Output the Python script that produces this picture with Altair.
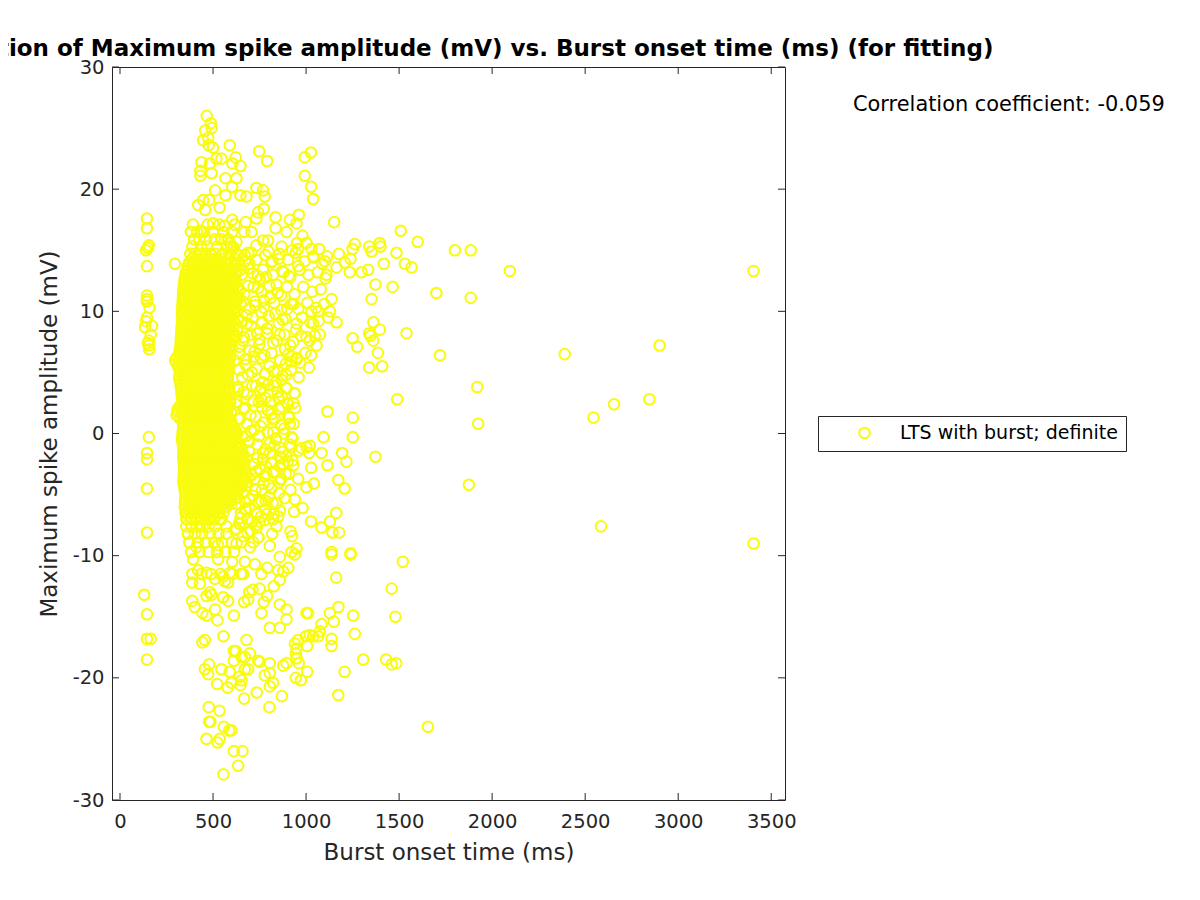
import altair as alt
import pandas as pd

TITLE = "Correlation of Maximum spike amplitude (mV) vs. Burst onset time (ms) (for fitting)"
X_LABEL = "Burst onset time (ms)"
Y_LABEL = "Maximum spike amplitude (mV)"
NOTE = "Correlation coefficient: -0.059"
SERIES = "LTS with burst; definite"
X_TICKS = [0, 500, 1000, 1500, 2000, 2500, 3000, 3500]
Y_TICKS = [-30, -20, -10, 0, 10, 20, 30]
INK = "#262626"
YELLOW = "#F9FB0E"

# early column of cells
left_x = [145,145,140,150,155,145,145,145,145,158,172,145,140,135,165,155,150,155,157,155,145,145,145,145,130,145,145,165,145,295]
left_y = [17.6,16.8,15.0,15.2,15.4,13.7,11.3,11.0,10.8,10.3,8.8,9.5,9.2,8.7,8.1,7.6,7.4,7.2,6.9,-0.3,-1.6,-2.1,-4.5,-8.1,-13.2,-14.8,-16.8,-16.8,-18.5,13.9]

# isolated late cells
far_x = [1600,1800,1885,2095,3405,1700,1885,1720,2390,2900,1540,1920,1490,2845,2655,2545,1925,1875,2585,3405,1520,1460,1480,1655,1430,1460,1485]
far_y = [15.7,15.0,15.0,13.3,13.3,11.5,11.1,6.4,6.5,7.2,8.2,3.8,2.8,2.8,2.4,1.3,0.8,-4.2,-7.6,-9.0,-10.5,-12.7,-15.0,-24.0,-18.5,-18.9,-18.8]

# upper fringe
top_x = [466,488,493,458,447,474,477,500,590,748,791,1026,993,993,1027,1038,438,483,518,545,622,604,647,432,432,492,567,626,603,511,567,647,680,733,769,778,420,447,479,458,535,773,742,733,603,500,563,676,836,836,913,961,949,895,432,438,707,1151,1509,981,952,1002,957,626,590,689,769,796,868,1262,1250,1339,1352,1396,1400,1486,1029,1070,1038,1176,1113,1101,1239,1208,1418,1531,1567,1235,1298,1334,1164,1110,1373,1465,1352,1137]
top_y = [26.0,25.4,25.0,24.8,24.0,24.2,23.6,23.4,23.6,23.1,22.3,23.0,22.6,21.1,20.2,19.2,22.2,22.1,22.5,22.5,22.6,22.1,21.9,21.5,21.1,21.3,20.9,20.9,20.2,19.9,19.5,19.5,19.4,20.1,19.9,19.4,18.7,19.1,19.1,18.3,18.5,18.4,18.1,17.6,17.5,17.2,17.0,17.3,17.7,16.8,17.5,17.9,17.2,16.5,16.6,16.5,16.5,17.3,16.6,16.2,15.6,15.6,15.1,15.7,15.6,14.8,15.8,15.8,15.3,15.5,15.1,15.3,14.9,15.6,15.3,14.8,15.1,15.1,14.5,14.7,14.5,14.1,14.3,14.0,13.9,13.9,13.6,13.2,13.2,13.4,13.6,13.0,12.2,12.0,11.0,11.0]

# middle right fringe
mid_x = [1250,1275,1362,1339,1346,1397,1361,1386,1339,1409,1115,1251,1094,1251,1373,1194,1217,1083,1115,1173,1207,1027,1015,1027,1164,1119,1128,1065,1029,1038,1074,1047,1002,949,922,891,868,836,895,760,760,931,904,868,913,934,832,823,927,975,1002,1020,1017,895,868,931,859,891,864,957,1002,1042,916,940,981,936,782,680,787,805,1162,1027,1128,1083,1142,1178,916,925,859,850,823,841,818,751,742,716,805,644,617,626,545,483,429,366,411,527,949,1137,1239,922]
mid_y = [7.8,7.1,9.1,8.2,8.0,8.5,7.6,6.6,5.4,5.5,1.8,1.3,-0.3,-0.3,-1.9,-1.6,-2.3,-1.6,-2.6,-3.8,-4.5,-2.8,5.4,6.4,9.1,9.5,10.0,10.0,10.0,9.0,8.1,8.0,7.9,6.2,6.3,5.7,4.4,4.2,3.7,3.7,2.8,2.5,2.4,2.2,0.8,0.8,1.2,0.1,-0.4,-1.2,-1.1,-1.0,-1.6,-1.8,-2.0,-2.6,-2.7,-3.3,-3.8,-3.7,-4.4,-4.1,-4.6,-5.4,-6.1,-6.4,-5.5,-6.3,-3.3,-1.6,-6.5,-7.2,-7.2,-7.7,-8.1,-8.1,-8.0,-8.4,-6.3,-6.8,-7.0,-7.6,-8.2,-7.2,-8.5,-8.9,-9.2,-7.4,-7.9,-9.0,-7.0,-6.5,-7.6,-8.2,-9.3,-9.1,-9.4,-9.7,-9.8,-9.7]

# lower fringe
low_x = [1137,1239,1162,1253,1174,1128,1149,1083,1262,1137,1137,1074,1065,1038,1020,999,1006,957,940,949,945,949,961,1006,945,972,1307,1207,1173,1011,1002,895,859,895,859,805,760,773,791,751,712,694,689,667,581,554,612,524,511,465,443,402,388,483,465,492,581,563,554,590,388,429,510,662,760,791,850,877,904,859,827,603,671,725,527,393,420,465,859,940,556,680,456,443,612,622,698,653,671,612,742,751,805,895,877,689,671,590,545,479,456,474,522,644,653,647,599,579,778,805,823,805,735,667,870,803,477,535,479,486,558,599,587,465,536,524,612,658,635,556]
low_y = [-9.9,-9.9,-11.8,-14.9,-14.2,-14.7,-15.4,-15.6,-16.4,-16.8,-17.4,-16.2,-16.6,-16.6,-16.5,-16.6,-17.4,-16.9,-17.2,-17.6,-18.0,-18.4,-18.8,-19.5,-20.0,-20.2,-18.5,-19.5,-21.4,-14.7,-14.7,-14.4,-14.0,-15.2,-15.9,-15.9,-14.7,-13.8,-13.3,-12.7,-12.8,-13.0,-13.6,-13.8,-13.7,-13.4,-14.9,-15.3,-14.4,-14.9,-14.7,-14.2,-13.7,-13.0,-13.3,-13.2,-12.2,-12.1,-11.7,-11.4,-12.2,-12.3,-11.9,-11.5,-11.5,-11.0,-11.2,-11.3,-11.0,-12.0,-12.5,-10.5,-10.5,-10.7,-10.3,-10.3,-11.2,-11.4,-10.1,-9.9,-16.6,-16.9,-16.9,-17.1,-17.8,-17.8,-18.0,-18.3,-18.3,-18.6,-18.6,-18.7,-18.8,-18.8,-19.0,-19.3,-19.3,-19.5,-19.3,-18.9,-19.3,-19.7,-20.5,-19.9,-20.2,-20.6,-20.4,-20.8,-19.8,-19.6,-20.4,-20.7,-21.2,-21.7,-21.5,-22.4,-22.4,-22.7,-23.6,-23.6,-24.0,-24.3,-24.3,-25.0,-25.0,-25.3,-26.0,-26.0,-27.2,-27.9]

# loose cloud right of the dense core
cloud_x = [640,672,705,733,781,812,858,903,944,992,1041,1088,655,690,741,768,822,871,915,966,1013,1062,1105,630,668,718,759,803,848,897,938,985,1033,1079,648,697,726,774,829,866,921,958,1007,1054,1098,635,682,712,765,799,853,889,949,978,1024,1068,626,661,702,748,790,843,884,931,973,1018,1056,642,676,723,757,814,861,905,952,996,640,688,735,779,826,872,918,960,632,664,711,752,796,847,893,938,628,671,716,763,808,855,899,941,636,681,729,771,818,866,910,624,658,704,748,793,838,882,922,645,692,738,781,829,873,919,962,633,678,722,769,812,858,900,646,689,734,776,823,866,908,637,680,727,771,814,856,629,672,715,760,801,842,884,650,694,738,783,825,640,684,731,776,660,702,745]
cloud_y = [14.6,14.1,14.8,14.2,14.6,14.0,14.7,14.2,14.8,14.1,14.4,13.9,13.0,13.5,12.9,13.4,13.0,13.3,12.8,13.4,13.0,13.2,12.7,11.9,11.4,12.0,11.6,12.1,11.5,12.0,11.4,12.0,11.6,11.8,10.6,10.2,10.8,10.3,10.7,10.1,10.6,10.2,10.7,10.3,10.6,9.4,9.0,9.5,9.1,9.6,9.0,9.4,9.0,9.5,9.1,9.2,8.0,7.6,8.1,7.7,8.2,7.6,8.1,7.5,8.0,7.6,7.2,6.5,6.1,6.7,6.2,6.6,6.0,6.5,6.1,6.6,5.2,4.8,5.3,4.9,5.1,4.7,5.2,4.6,3.8,3.4,3.9,3.5,4.0,3.4,3.7,3.3,2.6,2.1,2.7,2.2,2.6,2.0,2.5,2.1,1.2,0.8,1.4,0.9,1.2,0.7,1.3,0.1,-0.3,0.2,-0.2,0.1,-0.4,0.0,-0.3,-1.0,-1.4,-0.9,-1.3,-1.0,-1.5,-1.1,-1.4,-2.3,-2.0,-2.5,-2.1,-2.4,-1.9,-2.3,-3.2,-3.6,-3.1,-3.5,-3.2,-3.7,-3.3,-4.4,-4.0,-4.6,-4.1,-4.5,-4.0,-5.2,-5.6,-5.1,-5.5,-5.2,-5.7,-5.3,-6.5,-6.1,-6.6,-6.2,-6.6,-7.4,-7.0,-7.5,-7.1,-8.4,-8.0,-8.5]

# dense core: one amplitude level per list of onset times
core_y = [14.0,13.5,13.0,12.5,12.0,11.5,11.0,10.5,10.0,9.5,9.0,8.5,8.0,7.5,7.0,6.5,6.0,5.5,5.0,4.5,4.0,3.5,3.0,2.5,2.0,1.5,1.0,0.5,0.0,-0.5,-1.0,-1.5,-2.0,-2.5,-3.0,-3.5,-4.0,-4.5,-5.0,-5.5,-6.0,-6.5,-7.0]
core_x = [
 [372,399,421,448,476,503,528,561,594,632],
 [361,389,411,434,463,489,515,542,574,606],
 [352,376,402,427,452,478,506,531,559,587,621],
 [346,369,394,418,441,467,493,519,547,572,603],
 [343,366,388,412,437,461,486,512,538,566,592,628],
 [340,361,384,409,431,456,481,507,533,558,584,611],
 [338,362,386,407,433,458,483,505,531,556,582,607,634],
 [336,357,381,404,428,452,477,503,529,553,578,604],
 [334,359,383,406,431,455,479,506,527,552,579,601,627],
 [336,358,380,403,426,451,476,499,525,550,574,598],
 [333,356,379,402,428,449,474,501,524,548,571,596,619],
 [331,354,377,401,424,447,472,498,521,546,569,593],
 [329,352,376,399,422,446,470,495,518,544,567,590,612],
 [327,349,373,397,419,443,468,492,516,541,564,588],
 [325,347,371,394,418,441,465,489,514,538,561,585,603],
 [318,342,366,391,413,438,462,486,511,535,558,581],
 [296,321,345,369,393,416,440,463,488,512,536,559,579],
 [312,338,362,386,411,434,458,482,507,530,553,576],
 [324,347,371,395,419,442,466,491,514,538,561,582],
 [318,344,368,392,416,439,463,487,511,534,557,578],
 [326,349,373,397,421,445,468,492,517,540,563],
 [330,353,377,401,424,448,472,496,520,543,566,584],
 [333,356,380,404,428,451,475,499,523,546,569],
 [335,358,382,406,430,453,477,501,525,548,571,592],
 [311,337,361,384,408,432,456,480,503,527,551,574],
 [304,334,359,383,407,431,455,479,502,526,550,573],
 [338,362,386,409,433,457,481,505,529,552,576,597],
 [341,365,388,412,436,460,484,507,531,555,578,604],
 [336,360,384,408,432,456,480,504,528,552,576,601,628],
 [334,358,382,406,431,454,478,502,527,551,575,600,624],
 [339,363,387,411,435,459,483,508,532,556,580,604,633],
 [342,366,390,414,438,462,486,511,534,559,583,607,631,656],
 [340,364,388,412,436,460,484,509,533,557,581,606,630,658],
 [344,368,392,416,440,464,489,513,537,561,585,610,634,662],
 [346,371,395,419,443,467,491,515,539,564,588,612,637,668],
 [343,367,391,415,439,463,487,512,536,560,584,609,633,675],
 [341,365,389,413,437,461,485,510,534,558,582,607,631,659],
 [347,372,396,420,444,468,493,517,541,565,589,614,642],
 [352,376,400,424,448,472,497,521,545,569,593,620],
 [350,374,399,423,447,471,495,520,544,568,596],
 [348,372,396,421,445,469,494,518,543,571],
 [352,378,403,428,453,478,503,529,556],
 [356,381,406,431,457,482,508,540],
]

# second pass over the core, between the levels above
fill_y = [13.75,13.25,12.75,12.25,11.75,11.25,10.75,10.25,9.75,9.25,8.75,8.25,7.75,7.25,6.75,6.25,5.75,5.25,4.75,4.25,3.75,3.25,2.75,2.25,1.75,1.25,0.75,0.25,-0.25,-0.75,-1.25,-1.75,-2.25,-2.75,-3.25,-3.75,-4.25,-4.75,-5.25,-5.75]
fill_x = [
 [366,386,410,436,462,490,516,547,579,617],
 [356,382,400,424,449,476,502,529,560,592,626],
 [349,364,390,415,440,465,491,519,545,573,604],
 [344,358,381,405,429,454,480,506,532,559,587,618],
 [341,355,377,400,425,449,474,499,525,552,579,606,642],
 [339,351,373,396,420,444,469,494,520,545,571,597,622],
 [337,350,374,397,420,445,470,494,518,543,569,594,620],
 [335,347,369,392,416,440,465,490,516,541,566,591,616],
 [333,346,371,394,418,443,467,492,516,540,566,589,612],
 [335,347,369,392,414,438,463,487,512,537,562,586,609],
 [331,344,367,390,415,438,461,487,512,536,560,584,607],
 [329,342,365,389,412,435,459,485,509,533,557,581,602],
 [327,340,364,387,410,434,458,482,506,530,555,578,600],
 [326,338,361,385,408,431,456,480,504,529,552,576,595],
 [321,336,358,382,406,429,453,477,501,526,549,573,592],
 [307,331,355,379,402,426,450,474,499,523,547,570,590],
 [304,330,354,378,402,425,449,473,497,521,545,568,584],
 [318,342,365,389,414,438,462,486,510,534,557,579],
 [320,345,369,393,417,441,465,489,512,536,559,580],
 [322,345,369,393,417,440,464,488,512,536,560,581],
 [328,351,375,399,422,446,470,494,518,541,564,586],
 [331,354,378,402,426,449,473,497,521,544,567,588],
 [334,357,381,405,429,452,476,500,524,547,570,590],
 [322,346,371,395,419,443,467,491,514,538,561,583],
 [308,335,360,384,408,431,455,479,503,527,550,574,596],
 [321,348,372,396,420,444,468,492,515,539,563,585],
 [340,363,387,411,435,458,482,506,530,554,577,600],
 [338,362,386,410,434,458,482,506,529,553,577,602,621],
 [335,359,383,407,431,455,479,503,527,552,576,600,626],
 [336,360,384,408,433,456,480,505,529,553,577,602,628],
 [340,364,388,412,436,461,485,509,533,557,581,605,632,649],
 [341,365,389,413,437,461,485,510,534,558,582,606,630,657],
 [342,366,390,414,438,462,486,511,535,559,583,608,632,660],
 [345,369,393,417,441,465,490,514,538,562,586,611,636,665],
 [344,369,393,417,441,465,489,513,538,562,586,610,635,672],
 [342,366,390,414,438,462,486,511,535,559,583,608,632,667],
 [344,368,392,416,440,465,489,513,537,561,585,610,636,651],
 [349,374,398,422,446,470,495,519,543,567,591,617],
 [351,375,399,424,448,472,496,520,544,569,595,628],
 [349,373,397,422,446,470,494,519,544,570,600],
]

# close-set rings beside the core, read one by one
shoulder = [
 (612,15.2),(671,14.6),(733,15.4),(798,14.9),(853,14.3),(925,15.0),(648,13.4),(695,13.9),(752,12.6),(819,14.1),(880,13.2),(958,13.7),
 (625,12.4),(689,12.1),(714,13.1),(786,12.8),(841,12.2),(907,12.9),(637,11.2),(661,10.8),(743,11.9),(772,10.9),(866,11.3),(933,10.6),
 (619,10.3),(680,9.7),(726,10.5),(809,11.1),(834,9.8),(899,10.2),(652,9.2),(704,8.8),(761,9.9),(791,8.6),(874,9.3),(946,8.5),
 (629,8.4),(666,7.9),(737,8.2),(823,7.4),(858,8.1),(915,7.2),(641,7.1),(698,6.8),(749,7.3),(776,6.4),(887,6.9),(921,5.9),
 (616,6.0),(675,5.6),(719,6.3),(803,5.5),(846,5.1),(969,5.8),(658,4.6),(709,5.0),(767,4.2),(828,3.9),(893,4.8),(636,3.6),
 (684,3.2),(731,3.9),(781,2.9),(869,3.1),(938,3.3),(623,2.4),(664,2.0),(746,2.6),(815,1.6),(851,2.9),(904,1.4),(645,1.2),
 (701,1.5),(756,0.6),(795,1.9),(882,0.4),(614,0.5),(677,-0.2),(722,0.3),(838,-0.5),(912,-0.9),(650,-1.1),(693,-0.7),(769,-1.6),
 (806,-0.8),(862,-1.2),(628,-1.9),(668,-2.4),(739,-2.0),(784,-2.7),(927,-2.2),(638,-3.0),(707,-3.4),(753,-2.9),(831,-3.1),(876,-2.5),
 (620,-3.9),(681,-4.3),(727,-3.7),(799,-4.2),(854,-4.9),(660,-4.9),(696,-5.4),(764,-4.6),(820,-5.7),(633,-5.8),(672,-6.2),(744,-5.6),
 (788,-6.6),(647,-6.9),(710,-7.2),(758,-6.8),(626,-7.8),(686,-8.1),(735,-7.7),(654,-8.9),(699,-9.3),
]

# rings above and below the core
cap_y = [17.1,16.5,15.9,15.3,14.7,14.3,-6.5,-7.0,-7.6,-8.2,-8.9,-9.7,-11.5]
cap_x = [
 [392,471,533,616],
 [381,414,452,499,556,603,668],
 [398,427,463,509,544,582],
 [389,436,470,521,573,597],
 [378,402,431,458,486,512,549,588,626],
 [388,412,437,461,489,518,546,581,615],
 [362,388,415,441,469,498,531],
 [359,386,413,442,472,505,538],
 [356,384,412,444,476,512,573],
 [365,402,441,483,529,572],
 [372,418,461,507,549,601],
 [382,428,476,521,567,613],
 [389,437,489,541,602,650],
]

xs = left_x + far_x + top_x + mid_x + low_x + cloud_x + [p[0] for p in shoulder]
ys = left_y + far_y + top_y + mid_y + low_y + cloud_y + [p[1] for p in shoulder]
for levels, rows in [(core_y, core_x), (fill_y, fill_x), (cap_y, cap_x)]:
    for level, times in zip(levels, rows):
        xs = xs + times
        ys = ys + [level] * len(times)

points = pd.DataFrame({"onset": xs, "amp": ys, "series": SERIES})
x_scale = alt.Scale(domain=[-43, 3574], nice=False, zero=False)
y_scale = alt.Scale(domain=[-30, 30], nice=False, zero=False)
W, H = 673, 733
TICK = 7
PLAIN = "'' + datum.value"

x_axis = alt.Axis(values=X_TICKS, ticks=False, domain=False, grid=False, labelFontSize=19.5,
                  titleFontSize=23, labelPadding=12, titlePadding=11, labelColor=INK,
                  titleColor=INK, titleFontWeight="normal", labelFlush=False, labelExpr=PLAIN)
y_axis = alt.Axis(values=Y_TICKS, ticks=False, domain=False, grid=False, labelFontSize=19.5,
                  titleFontSize=23, labelPadding=8, titlePadding=11, labelColor=INK,
                  titleColor=INK, titleFontWeight="normal", labelExpr=PLAIN)

scatter = alt.Chart(points).mark_point(filled=False, size=112, strokeWidth=2, opacity=1).encode(
    x=alt.X("onset:Q", scale=x_scale, title=X_LABEL, axis=x_axis),
    y=alt.Y("amp:Q", scale=y_scale, title=Y_LABEL, axis=y_axis),
    color=alt.Color("series:N", scale=alt.Scale(domain=[SERIES], range=[YELLOW]),
                    legend=alt.Legend(title=None, orient="none", legendX=706, legendY=349,
                                      strokeColor=INK, fillColor="white", padding=8,
                                      labelFontSize=19, labelColor="black", labelLimit=400,
                                      symbolType="circle", symbolSize=112, symbolStrokeWidth=2,
                                      symbolOffset=29, labelOffset=26, clipHeight=18)),
)

x_df = pd.DataFrame({"t": X_TICKS})
y_df = pd.DataFrame({"t": Y_TICKS})
tick_kw = dict(color=INK, strokeWidth=1)
bottom = alt.Chart(x_df).mark_rule(**tick_kw).encode(
    x=alt.X("t:Q", scale=x_scale, title=X_LABEL, axis=x_axis), y=alt.value(H - TICK), y2=alt.value(H))
top = alt.Chart(x_df).mark_rule(**tick_kw).encode(
    x=alt.X("t:Q", scale=x_scale, title=X_LABEL, axis=x_axis), y=alt.value(0), y2=alt.value(TICK))
left = alt.Chart(y_df).mark_rule(**tick_kw).encode(
    y=alt.Y("t:Q", scale=y_scale, title=Y_LABEL, axis=y_axis), x=alt.value(0), x2=alt.value(TICK))
right = alt.Chart(y_df).mark_rule(**tick_kw).encode(
    y=alt.Y("t:Q", scale=y_scale, title=Y_LABEL, axis=y_axis), x=alt.value(W - TICK), x2=alt.value(W))

note = alt.Chart(pd.DataFrame({"t": [NOTE]})).mark_text(
    align="left", baseline="middle", fontSize=20.9, color="black").encode(
    text="t:N", x=alt.value(741), y=alt.value(38))

chart = alt.layer(scatter, bottom, top, left, right, note).properties(
    width=W, height=H,
    title=alt.TitleParams(TITLE, anchor="middle", fontSize=23, fontWeight="bold", color="black", offset=-4),
    autosize=alt.AutoSizeParams(type="none"),
    padding={"left": 104, "top": 59, "right": 407, "bottom": 84},
).configure(font="DejaVu Sans").configure_view(stroke=INK, strokeWidth=1)

chart.save("out.html", embed_options={"renderer": "svg", "actions": False})
